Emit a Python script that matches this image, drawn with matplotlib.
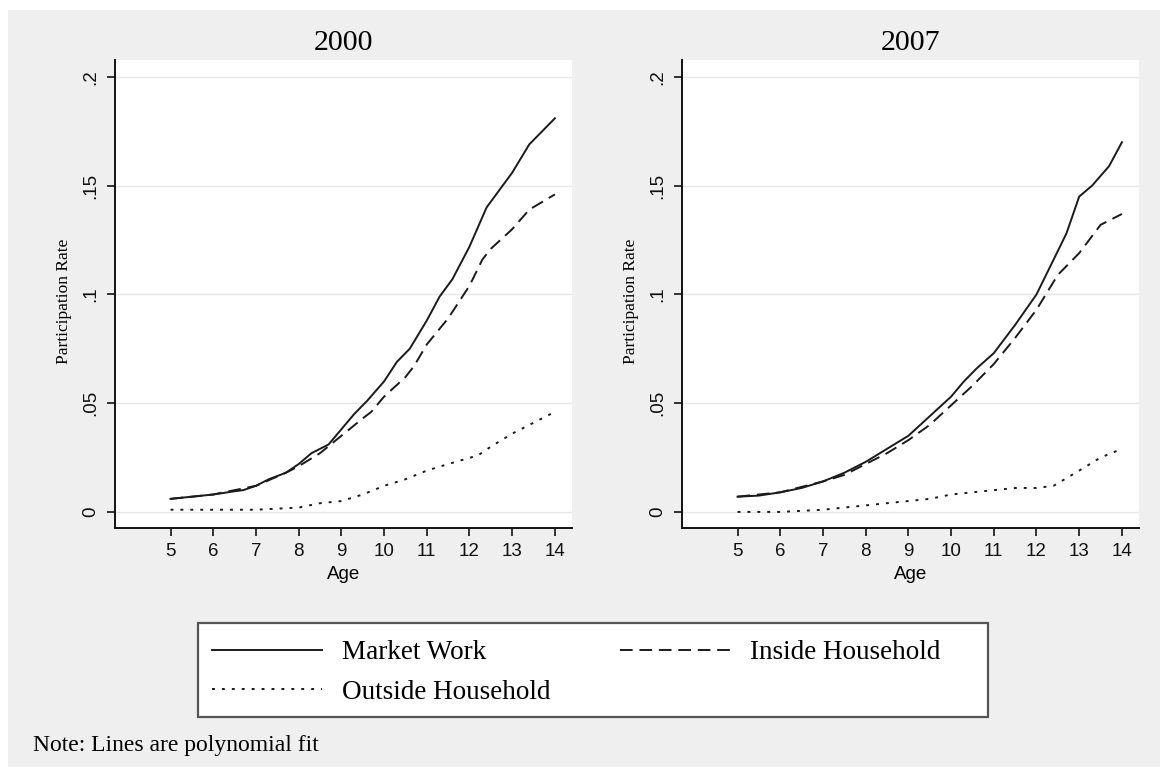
import matplotlib
matplotlib.use("Agg")
import matplotlib.pyplot as plt
from matplotlib.patches import Rectangle

# ---------------- data ----------------
panel_titles = ["2000", "2007"]
series_labels = ["Market Work", "Inside Household", "Outside Household"]

age_mw_2000 = [5, 5.5, 6, 6.5, 6.7, 7, 7.3, 7.7, 8, 8.3, 8.7, 9, 9.3, 9.6, 10, 10.3, 10.6,
               11, 11.3, 11.6, 12, 12.4, 12.7, 13, 13.4, 13.7, 14]
mw_2000 = [0.006, 0.007, 0.008, 0.0095, 0.010, 0.012, 0.015, 0.018, 0.022, 0.027, 0.031,
           0.038, 0.045, 0.051, 0.060, 0.069, 0.075, 0.088, 0.099, 0.107, 0.122, 0.140,
           0.148, 0.156, 0.169, 0.175, 0.181]

age_ih_2000 = [5, 6, 7, 7.7, 8, 8.5, 9, 9.5, 9.7, 10, 10.5, 10.7, 11, 11.5, 12, 12.3, 12.5,
               13, 13.4, 14]
ih_2000 = [0.006, 0.008, 0.012, 0.018, 0.021, 0.027, 0.035, 0.043, 0.046, 0.053, 0.062,
           0.067, 0.077, 0.089, 0.104, 0.116, 0.121, 0.130, 0.139, 0.146]

age_oh_2000 = [5, 6, 7, 8, 8.5, 9, 9.5, 10, 10.5, 11, 11.5, 12.2, 12.5, 13, 13.5, 14]
oh_2000 = [0.001, 0.001, 0.001, 0.002, 0.004, 0.005, 0.008, 0.012, 0.015, 0.019, 0.022,
           0.026, 0.030, 0.036, 0.041, 0.046]

age_mw_2007 = [5, 5.5, 6, 6.5, 7, 7.5, 8, 8.5, 9, 9.5, 10, 10.3, 10.6, 11, 11.5, 12, 12.3,
               12.7, 13, 13.3, 13.7, 14]
mw_2007 = [0.007, 0.0075, 0.009, 0.011, 0.014, 0.018, 0.023, 0.029, 0.035, 0.044, 0.053,
           0.060, 0.066, 0.073, 0.086, 0.100, 0.112, 0.128, 0.145, 0.150, 0.159, 0.170]

age_ih_2007 = [5, 6, 7, 7.5, 8, 8.5, 9, 9.5, 10, 10.5, 11, 11.5, 12, 12.5, 13, 13.5, 14]
ih_2007 = [0.007, 0.009, 0.014, 0.017, 0.022, 0.027, 0.033, 0.040, 0.049, 0.058, 0.068,
           0.080, 0.093, 0.109, 0.119, 0.132, 0.137]

age_oh_2007 = [5, 6, 7, 7.5, 8, 8.5, 9, 9.5, 10, 10.5, 11, 11.5, 12, 12.4, 13, 13.5, 14]
oh_2007 = [0.000, 0.000, 0.001, 0.002, 0.003, 0.004, 0.005, 0.006, 0.008, 0.009, 0.010,
           0.011, 0.011, 0.012, 0.019, 0.025, 0.029]

x_ticks = [5, 6, 7, 8, 9, 10, 11, 12, 13, 14]
y_ticks = [0, 0.05, 0.1, 0.15, 0.2]
y_ticklabels = ["0", ".05", ".1", ".15", ".2"]

panels = [
    [(age_mw_2000, mw_2000), (age_ih_2000, ih_2000), (age_oh_2000, oh_2000)],
    [(age_mw_2007, mw_2007), (age_ih_2007, ih_2007), (age_oh_2007, oh_2007)],
]

# ---------------- styles ----------------
W, H = 1166, 773
serif = ["Liberation Serif", "DejaVu Serif"]
sans = ["Liberation Sans", "DejaVu Sans"]
line_styles = [dict(linestyle="-"),
               dict(linestyle=(0, (6.5, 3.5))),
               dict(linestyle=(0, (1.5, 3.6)))]

fig = plt.figure(figsize=(W / 100, H / 100), dpi=100, facecolor="white")
fig.add_artist(Rectangle((8 / W, 1 - 767 / H), 1152 / W, 757 / H,
                         transform=fig.transFigure, facecolor="#efefef",
                         edgecolor="none", zorder=0))

ax_lefts = [115, 682]
handles = []
for i, (left_px, title, series) in enumerate(zip(ax_lefts, panel_titles, panels)):
    ax = fig.add_axes([left_px / W, 1 - 528 / H, 457 / W, 468 / H])
    ax.set_facecolor("white")
    for (xs, ys), st, lab in zip(series, line_styles, series_labels):
        ln, = ax.plot(xs, ys, color="#1a1a1a", linewidth=1.4, label=lab, **st)
        if i == 0:
            handles.append(ln)
    ax.set_xlim(3.7, 14.4)
    ax.set_ylim(-0.0074, 0.2078)
    ax.set_xticks(x_ticks)
    ax.set_xticklabels([str(t) for t in x_ticks], fontsize=13.5, family=sans)
    ax.set_yticks(y_ticks)
    ax.set_yticklabels(y_ticklabels, fontsize=13.5, family=sans, rotation=90, va="center")
    ax.grid(axis="y", color="#e6e6e6", linewidth=1.0)
    ax.set_axisbelow(True)
    for s in ["top", "right"]:
        ax.spines[s].set_visible(False)
    for s in ["left", "bottom"]:
        ax.spines[s].set_linewidth(1.4)
        ax.spines[s].set_color("#111111")
    ax.tick_params(direction="out", length=6, width=1.2, colors="#111111", pad=5)
    ax.set_title(title, fontsize=21.5, family=serif, pad=7)
    ax.set_xlabel("Age", fontsize=13.5, family=sans, labelpad=4)
    ax.set_ylabel("Participation Rate", fontsize=12.5, family=serif)
    ax.yaxis.set_label_coords(-0.094, 0.485)

# legend box
fig.add_artist(Rectangle((198 / W, 1 - 717 / H), 790 / W, 94 / H,
                         transform=fig.transFigure, facecolor="white",
                         edgecolor="#555555", linewidth=1.6, zorder=2))
leg_handles = [handles[0], handles[2], handles[1]]
leg_labels = [series_labels[0], series_labels[2], series_labels[1]]
leg = fig.legend(leg_handles, leg_labels, loc="center left",
                 bbox_to_anchor=(212 / W, 1 - 672.5 / H),
                 ncol=2, frameon=False,
                 prop=dict(family=serif, size=19.5), handlelength=4.06,
                 handletextpad=0.74, labelspacing=0.55, borderpad=0.0,
                 borderaxespad=0.0, columnspacing=2.58)
leg.set_zorder(3)

fig.text(33 / W, 1 - 746 / H, "Note: Lines are polynomial fit", family=serif,
         fontsize=17, va="center", ha="left")

fig.savefig("out.png", dpi=100, facecolor="white")
